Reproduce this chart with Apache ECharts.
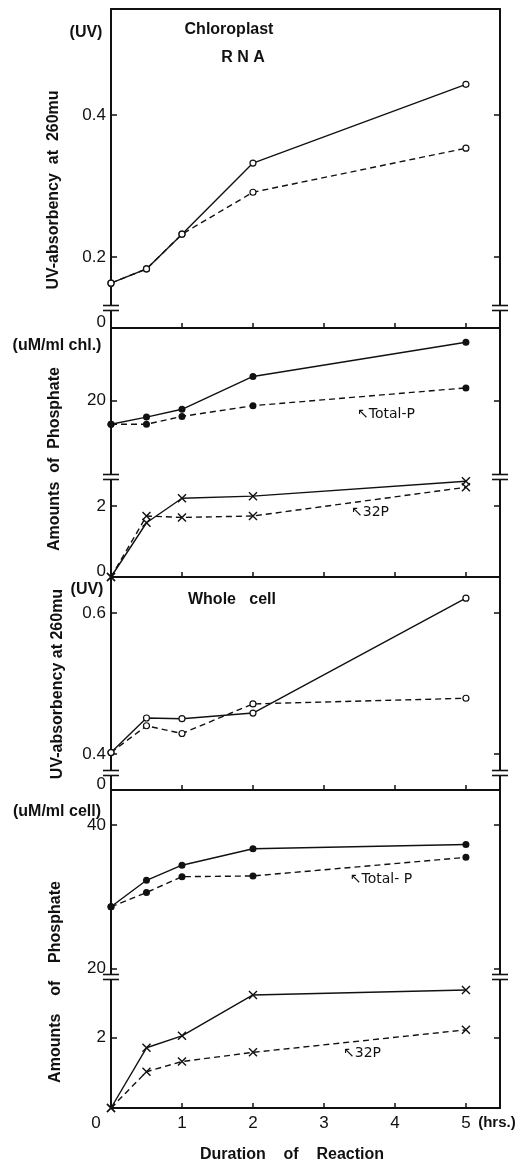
<!DOCTYPE html>
<html><head><meta charset="utf-8">
<script src="https://cdn.jsdelivr.net/npm/echarts@6/dist/echarts.min.js"></script>
<style>html,body{margin:0;padding:0;background:#fff}#c{width:532px;height:1165px}</style>
</head><body><div id="c"></div>
<script>
// ---------- data ----------
const hours = [0, 0.5, 1, 2, 5];
const xTicks = [0, 1, 2, 3, 4, 5];
// Chloroplast RNA
const chlUvSolid      = [0.163, 0.183, 0.232, 0.332, 0.443];
const chlUvDashed     = [0.163, 0.183, 0.232, 0.291, 0.353];
const chlTotalPSolid  = [16.7, 17.7, 18.8, 23.4, 28.2];
const chlTotalPDashed = [16.7, 16.7, 17.8, 19.3, 21.8];
const chlP32Solid     = [0, 1.53, 2.22, 2.28, 2.70];
const chlP32Dashed    = [0, 1.72, 1.68, 1.72, 2.53];
// Whole cell
const cellUvSolid      = [0.402, 0.451, 0.450, 0.458, 0.621];
const cellUvDashed     = [0.402, 0.440, 0.429, 0.471, 0.479];
const cellTotalPSolid  = [28.6, 32.3, 34.4, 36.7, 37.3];
const cellTotalPDashed = [28.6, 30.6, 32.8, 32.9, 35.5];
const cellP32Solid     = [0, 1.71, 2.05, 3.21, 3.35];
const cellP32Dashed    = [0, 1.03, 1.32, 1.58, 2.22];
// tick labels
const chlUvTicks = [0.2, 0.4];
const chlTotalPTicks = [20];
const chlP32Ticks = [0, 2];
const cellUvTicks = [0.4, 0.6];
const cellTotalPTicks = [20, 40];
const cellP32Ticks = [2];
const stubTicks = [0];

// ---------- layout ----------
const L = 111, R = 32, W = 532;
const xMax = 5.48;
const segs = [
  {top: 9,   h: 299, min: 0.128, max: 0.549, ticks: chlUvTicks},
  {top: 308, h: 20,  min: 0,     max: 1,     ticks: stubTicks, bottom: true, brk: true},
  {top: 328, h: 149, min: 9.3,   max: 30.2,  ticks: chlTotalPTicks},
  {top: 477, h: 100, min: 0,     max: 2.82,  ticks: chlP32Ticks, bottom: true, brk: true},
  {top: 577, h: 196, min: 0.373, max: 0.651, ticks: cellUvTicks},
  {top: 773, h: 17,  min: 0,     max: 1,     ticks: stubTicks, bottom: true, brk: true},
  {top: 790, h: 187, min: 18.8,  max: 44.9,  ticks: cellTotalPTicks},
  {top: 977, h: 131, min: 0,     max: 3.72,  ticks: cellP32Ticks, bottom: true, brk: true, xLabels: true}
];
const INK = '#111';
const labelFont = 'Liberation Sans';
const boldFont = 'Liberation Sans';

const grids = [], xAxes = [], yAxes = [];
const yFmt = v => v === 0 ? '{z|0}' : String(v);
segs.forEach((s, i) => {
  grids.push({left: L, right: R, top: s.top, height: s.h, outerBoundsMode: 'none', containLabel: false});
  xAxes.push({
    gridIndex: i, type: 'value', min: 0, max: xMax, position: 'bottom',
    axisLine: {show: !!s.bottom, onZero: false, lineStyle: {color: INK, width: 2}},
    axisTick: {show: !!s.bottom, inside: true, length: 5, customValues: [1, 2, 3, 4, 5], lineStyle: {color: INK, width: 1.5}},
    axisLabel: s.xLabels ? {
      show: true, customValues: xTicks, margin: 7, color: INK, fontSize: 17, fontFamily: labelFont,
      formatter: v => v === 0 ? '{z|0}' : String(v),
      rich: {z: {padding: [0, 30, 0, 0], fontSize: 17, fontFamily: labelFont, color: INK}}
    } : {show: false},
    splitLine: {show: false}
  });
  const tickVals = s.ticks.filter(v => v !== 0);
  yAxes.push({
    gridIndex: i, type: 'value', position: 'left', min: s.min, max: s.max,
    axisLine: {show: true, onZero: false, lineStyle: {color: INK, width: 2}},
    axisTick: {show: true, inside: true, length: 6, customValues: tickVals, lineStyle: {color: INK, width: 1.5}},
    axisLabel: {show: true, customValues: s.ticks, margin: 5, color: INK, fontSize: 17, fontFamily: labelFont,
      formatter: yFmt,
      rich: {z: {padding: [0, 0, 12, 0], fontSize: 17, fontFamily: labelFont, color: INK}}},
    splitLine: {show: false}
  });
  yAxes.push({
    gridIndex: i, type: 'value', position: 'right', min: s.min, max: s.max,
    axisLine: {show: true, onZero: false, lineStyle: {color: INK, width: 2}},
    axisTick: {show: true, inside: true, length: 6, customValues: tickVals, lineStyle: {color: INK, width: 1.5}},
    axisLabel: {show: false},
    splitLine: {show: false}
  });
});
// top border of the first box
xAxes.push({gridIndex: 0, type: 'value', min: 0, max: xMax, position: 'top',
  axisLine: {show: true, onZero: false, lineStyle: {color: INK, width: 2}},
  axisTick: {show: false}, axisLabel: {show: false}, splitLine: {show: false}});

const pairs = arr => hours.map((h, i) => [h, arr[i]]);
const crossPath = 'path://M0,0L10,10M10,0L0,10';
const markers = {
  open:   {symbol: 'circle', symbolSize: 6, itemStyle: {color: '#fff', borderColor: INK, borderWidth: 1.2}},
  filled: {symbol: 'circle', symbolSize: 7, itemStyle: {color: INK, borderColor: INK, borderWidth: 0}},
  cross:  {symbol: crossPath, symbolSize: 8, itemStyle: {color: 'none', borderColor: INK, borderWidth: 1.4}}
};
function line(seg, arr, dashed, mk) {
  return Object.assign({
    type: 'line', xAxisIndex: seg, yAxisIndex: seg * 2, data: pairs(arr), clip: false,
    lineStyle: {color: INK, width: 1.4, type: dashed ? [6, 4] : 'solid'},
    z: dashed ? 2 : 3, silent: true, animation: false
  }, markers[mk]);
}
const series = [
  line(0, chlUvDashed, true, 'open'),
  line(0, chlUvSolid, false, 'open'),
  line(2, chlTotalPDashed, true, 'filled'),
  line(2, chlTotalPSolid, false, 'filled'),
  line(3, chlP32Dashed, true, 'cross'),
  line(3, chlP32Solid, false, 'cross'),
  line(4, cellUvDashed, true, 'open'),
  line(4, cellUvSolid, false, 'open'),
  line(6, cellTotalPDashed, true, 'filled'),
  line(6, cellTotalPSolid, false, 'filled'),
  line(7, cellP32Dashed, true, 'cross'),
  line(7, cellP32Solid, false, 'cross')
];

// ---------- decorations ----------
const graphic = [];
const txt = (text, x, y, opt) => graphic.push(Object.assign({
  type: 'text', x, y, z: 100, silent: true,
  style: Object.assign({text, fill: INK, align: 'center', verticalAlign: 'middle',
    fontSize: 16, fontWeight: 'bold', fontFamily: boldFont}, (opt && opt.style) || {})
}, opt && opt.rotation ? {rotation: opt.rotation} : {}));
// axis break marks
segs.forEach(s => {
  if (!s.brk) return;
  [L, W - R].forEach(x => {
    const y = s.top;
    graphic.push({type: 'rect', z: 100, silent: true, shape: {x: x - 3, y: y - 2, width: 6, height: 4}, style: {fill: '#fff'}});
    graphic.push({type: 'line', z: 101, silent: true, shape: {x1: x - 8, y1: y - 2.5, x2: x + 8, y2: y - 2.5}, style: {stroke: INK, lineWidth: 1.6}});
    graphic.push({type: 'line', z: 101, silent: true, shape: {x1: x - 8, y1: y + 2.5, x2: x + 8, y2: y + 2.5}, style: {stroke: INK, lineWidth: 1.6}});
  });
});
const rot = Math.PI / 2;
txt('UV-absorbency  at  260mu', 54, 190, {rotation: rot, style: {fontSize: 16}});
txt('Amounts  of  Phosphate', 55, 459, {rotation: rot, style: {fontSize: 16}});
txt('UV-absorbency at 260mu', 58, 684, {rotation: rot, style: {fontSize: 16}});
txt('Amounts    of    Phosphate', 56, 982, {rotation: rot, style: {fontSize: 16}});
txt('(UV)', 86, 33, {style: {fontSize: 16}});
txt('(uM/ml chl.)', 57, 346, {style: {fontSize: 16}});
txt('(UV)', 87, 590, {style: {fontSize: 16}});
txt('(uM/ml cell)', 57, 812, {style: {fontSize: 16}});
txt('Chloroplast', 229, 30, {style: {fontSize: 16}});
txt('R N A', 243, 58, {style: {fontSize: 16}});
txt('Whole   cell', 232, 600, {style: {fontSize: 16}});
txt('↖Total-P', 386, 414, {style: {fontSize: 14, fontWeight: 'normal', fontFamily: 'DejaVu Sans'}});
txt('↖32P', 370, 512, {style: {fontSize: 14, fontWeight: 'normal', fontFamily: 'DejaVu Sans'}});
txt('↖Total- P', 381, 879, {style: {fontSize: 14, fontWeight: 'normal', fontFamily: 'DejaVu Sans'}});
txt('↖32P', 362, 1053, {style: {fontSize: 14, fontWeight: 'normal', fontFamily: 'DejaVu Sans'}});
const x5 = L + 5 / xMax * (W - L - R);
txt('(hrs.)', x5 + 31, 1123, {style: {fontSize: 15, fontWeight: 'bold', fontFamily: labelFont}});
txt('Duration    of    Reaction', 292, 1155, {style: {fontSize: 16}});

const chart = echarts.init(document.getElementById('c'), null, {renderer: 'canvas'});
chart.setOption({
  animation: false,
  backgroundColor: '#fff',
  grid: grids, xAxis: xAxes, yAxis: yAxes, series, graphic
});
</script></body></html>
